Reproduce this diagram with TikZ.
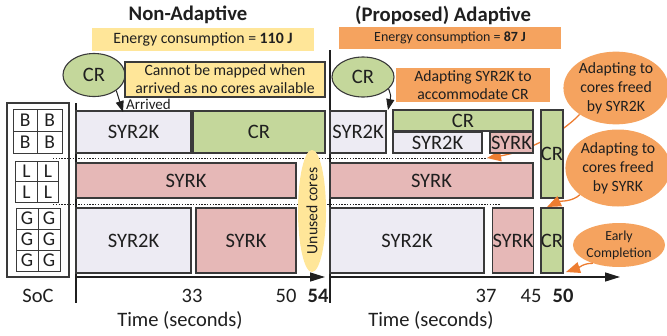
\documentclass[tikz,border=0pt]{standalone}
\usepackage{fontspec}
\setmainfont{Carlito}
\usetikzlibrary{arrows.meta,shapes.geometric}
\definecolor{lav}{HTML}{EDEBF3}
\definecolor{pnk}{HTML}{E6B8B7}
\definecolor{grn}{HTML}{C4D79B}
\definecolor{yel}{HTML}{FFE699}
\definecolor{orF}{HTML}{F5A35F}
\definecolor{orL}{HTML}{ED7D31}
\definecolor{edge}{HTML}{3A3A3A}
\definecolor{txt}{HTML}{1F1F1F}
\newcommand\fsTitle{\fontsize{20.7}{24}\selectfont\bfseries}
\newcommand\fsBox{\fontsize{20.5}{22}\selectfont}
\newcommand\fsMid{\fontsize{15.7}{18}\selectfont}
\newcommand\fsOrb{\fontsize{15.7}{19}\selectfont}
\newcommand\fsEnA{\fontsize{15.8}{18}\selectfont}
\newcommand\fsEnB{\fontsize{14}{16}\selectfont}
\newcommand\fsArr{\fontsize{15}{17}\selectfont}
\newcommand\fsEarly{\fontsize{13.8}{17}\selectfont}
\newcommand\fsCell{\fontsize{19.5}{21}\selectfont}
\begin{document}
\begin{tikzpicture}[x=1pt,y=-1pt,
  every node/.style={text=txt},
  taskbox/.style={draw=edge, line width=1.1pt, inner sep=0pt, font=\fsBox},
  cell/.style={draw=edge, line width=0.9pt, inner sep=0pt, font=\fsCell},
  axisln/.style={draw=txt, line width=1.4pt},
  dotln/.style={draw=txt, line width=0.8pt, dash pattern=on 1.4pt off 1.4pt},
  blkarrow/.style={draw=txt, line width=1pt, -{Triangle[length=11pt,width=8pt]}},
  orarrow/.style={draw=orL, line width=1.3pt, -{Triangle[length=14pt,width=11pt]}},
  orb/.style={ellipse, fill=orF, inner sep=0pt, align=center},
  lbl/.style={font=\fsBox, inner sep=0pt}
]
\useasboundingbox (0,0) rectangle (667,335);

% ---- titles and energy boxes
\node[font=\fsTitle] (tA) at (188,15) {Non-Adaptive};
\node[font=\fsTitle] (tB) at (443,15) {(Proposed) Adaptive};
\node[fill=yel, minimum width=222pt, minimum height=23pt, inner sep=0pt, font=\fsEnA] (enA) at (203,39.5) {Energy consumption = \textbf{110 J}};
\node[fill=orF, minimum width=222pt, minimum height=22pt, inner sep=0pt, font=\fsEnB] (enB) at (450,38) {Energy consumption = \textbf{87 J}};

% ---- orange ellipses (right)
\node[orb, minimum width=96pt, minimum height=66pt, font=\fsOrb] (e1) at (616,88) {Adapting to\\cores freed\\by SYR2K};
\node[orb, minimum width=94pt, minimum height=77pt, font=\fsOrb] (e2) at (618,168) {Adapting to\\cores freed\\by SYRK};
\node[orb, minimum width=88pt, minimum height=44pt, font=\fsEarly] (e3) at (619,245) {Early\\Completion};

% ---- arrow behind boxes
\coordinate (a1t) at (487,158);
\draw[orarrow] (e1.216) .. controls (560,135) and (525,152) .. (a1t);

% ---- dotted separators
\coordinate (d1a) at (53,158); \coordinate (d1b) at (487,158);
\coordinate (d2a) at (53,204); \coordinate (d2b) at (500,204);
\draw[dotln] (d1a) -- (d1b);
\draw[dotln] (d2a) -- (d2b);

% ---- axes
\coordinate (Ltop) at (76,103); \coordinate (Lbot) at (76,303);
\coordinate (L0) at (76,277); \coordinate (Lx) at (325,277);
\coordinate (Rtop) at (330,50); \coordinate (Rbot) at (330,303);
\coordinate (R0) at (330,277); \coordinate (Rx) at (620,277);
\draw[axisln] (Ltop) -- (Lbot);
\draw[axisln] (Rtop) -- (Rbot);
\draw[axisln, -{Triangle[length=15pt,width=9pt]}] (L0) -- (Lx);
\draw[axisln, -{Triangle[length=15pt,width=9pt]}] (R0) -- (Rx);

% ---- SoC
\node[draw=edge, line width=1.1pt, minimum width=62pt, minimum height=174pt, inner sep=0pt] (soc) at (38,190) {};
\foreach \c/\x in {1/25.25,2/49.75}{\foreach \r/\y in {1/120,2/142}{
  \node[cell, minimum width=24.5pt, minimum height=22pt] (B\r\c) at (\x,\y) {B};}}
\foreach \c/\x in {1/26.5,2/48}{\foreach \r/\y in {1/171.5,2/192}{
  \node[cell, minimum width=21.5pt, minimum height=20.5pt] (L\r\c) at (\x,\y) {L};}}
\foreach \c/\x in {1/27,2/49}{\foreach \r/\y in {1/218.5,2/239.5,3/260.5}{
  \node[cell, minimum width=22pt, minimum height=21pt] (G\r\c) at (\x,\y) {G};}}

% ---- left panel tasks
\node[taskbox, fill=lav, minimum width=115pt, minimum height=42pt] (l1) at (133.5,132) {SYR2K};
\node[taskbox, fill=grn, minimum width=132pt, minimum height=42pt] (l2) at (259,132) {CR};
\node[taskbox, fill=pnk, minimum width=220pt, minimum height=35pt] (l3) at (186,180.5) {SYRK};
\node[taskbox, fill=lav, minimum width=115pt, minimum height=65pt] (l4) at (133.5,240.5) {SYR2K};
\node[taskbox, fill=pnk, minimum width=100pt, minimum height=65pt] (l5) at (246,240.5) {SYRK};
\node[ellipse, fill=yel, rotate=90, minimum width=102pt, minimum height=28pt, inner sep=0pt, font=\fsMid] (uc) at (312,211) {Unused cores};

% ---- right panel tasks
\node[taskbox, fill=lav, minimum width=56pt, minimum height=42pt] (r1) at (358,132) {SYR2K};
\node[taskbox, fill=grn, minimum width=140pt, minimum height=21pt] (r2) at (463,120.5) {CR};
\node[taskbox, fill=lav, minimum width=89pt, minimum height=21pt] (r3) at (437.5,142.5) {SYR2K};
\node[taskbox, fill=pnk, minimum width=43pt, minimum height=21pt] (r4) at (511.5,142.5) {SYRK};
\node[taskbox, fill=grn, minimum width=22pt, minimum height=88pt] (r5) at (552,154) {CR};
\node[taskbox, fill=pnk, minimum width=203pt, minimum height=35pt] (r6) at (431.5,180.5) {SYRK};
\node[taskbox, fill=lav, minimum width=154pt, minimum height=65pt] (r7) at (407,240.5) {SYR2K};
\node[taskbox, fill=pnk, minimum width=40pt, minimum height=65pt] (r8) at (513,240.5) {SYRK};
\node[taskbox, fill=grn, minimum width=22pt, minimum height=65pt] (r9) at (552,240.5) {CR};

% ---- CR arrivals and callouts
\node[ellipse, draw=edge, fill=grn, line width=1.1pt, minimum width=62pt, minimum height=43pt, inner sep=0pt, font=\fsBox] (crA) at (94,75) {CR};
\node[draw=edge, fill=yel, line width=1.1pt, minimum width=200pt, minimum height=35pt, inner sep=0pt, align=center, font=\fsMid] (cA) at (225,79.5) {Cannot be mapped when\\arrived as no cores available};
\coordinate (arrA) at (123,112);
\draw[blkarrow] (crA.-35) -- (arrA);
\node[font=\fsArr, anchor=west, inner sep=0pt] (arrived) at (126,104) {Arrived};

\node[ellipse, draw=edge, fill=grn, line width=1.1pt, minimum width=62pt, minimum height=40pt, inner sep=0pt, font=\fsBox] (crB) at (363,77) {CR};
\node[fill=orF, minimum width=154pt, minimum height=34pt, inner sep=0pt, align=center, font=\fsMid] (cB) at (473,85) {Adapting SYR2K to\\accommodate CR};
\coordinate (arrB) at (388,110);
\draw[blkarrow] (crB.-25) .. controls (391,96) .. (arrB);

% ---- other orange arrows
\coordinate (a2t) at (547,207);
\draw[orarrow] (e2.215) .. controls (572,202) and (560,201) .. (a2t);
\coordinate (a3t) at (566,272);
\draw[orarrow] (e3.215) .. controls (584,263) and (578,268) .. (a3t);

% ---- axis labels
\node[lbl] (soclbl) at (38,296) {SoC};
\node[lbl] (t33) at (192,296) {33};
\node[lbl] (t50a) at (286,296) {50};
\node[lbl] (t54) at (318,296) {\textbf{54}};
\node[lbl] (t37) at (486,296) {37};
\node[lbl] (t45) at (531,296) {45};
\node[lbl] (t50b) at (563,296) {\textbf{50}};
\node[lbl] (timeA) at (180,320) {Time (seconds)};
\node[lbl] (timeB) at (431,320) {Time (seconds)};
\end{tikzpicture}
\end{document}
